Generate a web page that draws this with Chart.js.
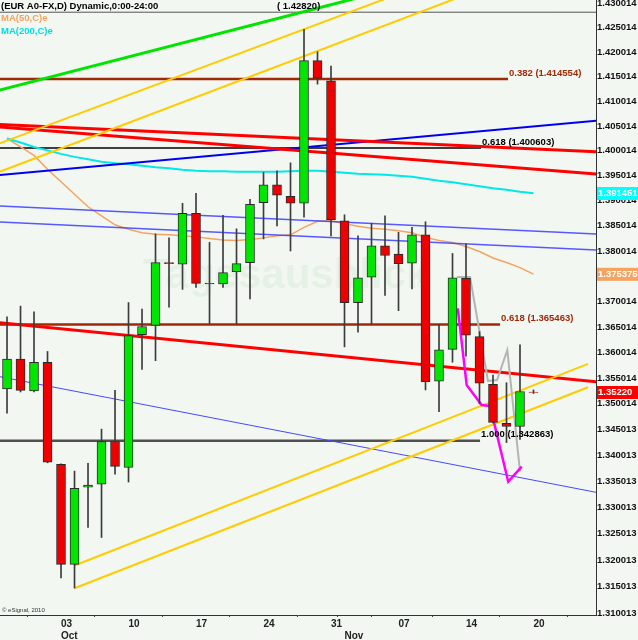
<!DOCTYPE html>
<html><head><meta charset="utf-8">
<script src="https://cdn.jsdelivr.net/npm/chart.js@4.4.1/dist/chart.umd.min.js"></script>
<style>html,body{margin:0;padding:0;background:#f2f7f2;}canvas{display:block;}</style>
</head><body>
<canvas id="c" width="638" height="640"></canvas>
<script>
// ---- data (EUR/USD daily, index 0 = Mon 03 Oct) ----
const dates = ['09-27','09-28','09-29','09-30','10-03','10-04','10-05','10-06','10-07','10-10','10-11','10-12','10-13','10-14','10-17','10-18','10-19','10-20','10-21','10-24','10-25','10-26','10-27','10-28','10-31','11-01','11-02','11-03','11-04','11-07','11-08','11-09','11-10','11-11','11-14','11-15','11-16','11-17','11-18','11-21'];
const firstIndex = -4;
const opens  = [1.3529,1.3587,1.3525,1.3581,1.3383,1.3192,1.3339,1.3345,1.3427,1.3377,1.3635,1.3653,1.3777,1.3774,1.3875,1.3736,1.3735,1.3759,1.3777,1.3896,1.3932,1.3909,1.3895,1.4183,1.4142,1.3860,1.3698,1.3748,1.3810,1.3794,1.3776,1.3832,1.3544,1.3606,1.3746,1.3631,1.3538,1.3462,1.3456,1.3523];
const highs  = [1.3670,1.3691,1.3680,1.3602,1.3384,1.3370,1.3385,1.3451,1.3526,1.3698,1.3685,1.3834,1.3826,1.3895,1.3915,1.3817,1.3871,1.3844,1.3903,1.3957,1.3960,1.3976,1.4247,1.4201,1.4172,1.3872,1.3830,1.3855,1.3870,1.3837,1.3847,1.3858,1.3655,1.3795,1.3814,1.3641,1.3556,1.3541,1.3615,1.3527];
const lows   = [1.3482,1.3523,1.3523,1.3386,1.3166,1.3147,1.3262,1.3243,1.3364,1.3349,1.3567,1.3584,1.3689,1.3724,1.3728,1.3656,1.3728,1.3656,1.3705,1.3824,1.3850,1.3800,1.3867,1.4135,1.3830,1.3611,1.3640,1.3656,1.3712,1.3682,1.3725,1.3527,1.3485,1.3581,1.3593,1.3500,1.3463,1.3425,1.3431,1.3520];
const closes = [1.3587,1.3526,1.3581,1.3387,1.3192,1.3337,1.3343,1.3427,1.3379,1.3633,1.3651,1.3777,1.3775,1.3875,1.3736,1.3735,1.3757,1.3775,1.3893,1.3932,1.3911,1.3895,1.4183,1.4147,1.3862,1.3698,1.3747,1.3810,1.3791,1.3775,1.3832,1.3543,1.3605,1.3747,1.3634,1.3540,1.3464,1.3456,1.3524,1.3522];
const ma50  = [1.4025,1.4008,1.3991,1.3963,1.3938,1.3913,1.3888,1.3870,1.3852,1.3843,1.3836,1.3833,1.3832,1.3830,1.3828,1.3825,1.3822,1.3821,1.3823,1.3826,1.3830,1.3832,1.3847,1.3859,1.3860,1.3854,1.3849,1.3845,1.3843,1.3840,1.3836,1.3827,1.3821,1.3817,1.3809,1.3799,1.3786,1.3777,1.3767,1.3754];
const ma200 = [1.4025,1.4017,1.4008,1.4001,1.3994,1.3988,1.3983,1.3978,1.3975,1.3973,1.3970,1.3967,1.3965,1.3962,1.3960,1.3959,1.3959,1.3958,1.3958,1.3958,1.3958,1.3959,1.3960,1.3960,1.3958,1.3956,1.3954,1.3953,1.3952,1.3950,1.3948,1.3944,1.3940,1.3937,1.3933,1.3929,1.3925,1.3922,1.3918,1.3915];
const yTickLabels = ['1.310013','1.315013','1.320013','1.325013','1.330013','1.335013','1.340013','1.345013','1.350014','1.355014','1.360014','1.365014','1.370014','1.375014','1.380014','1.385014','1.390014','1.395014','1.400014','1.405014','1.410014','1.415014','1.420014','1.425014','1.430014'];
const xTickIndex = [0,5,10,15,20,21,25,30,35];
const xTickLabels = [['03','Oct'],['10'],['17'],['24'],['31'],['','Nov'],['07'],['14'],['20']];
// trend lines: [index, price] endpoints
const greenLine   = [[-5.26,1.41179],[23.63,1.43234]];
const goldA       = [[-5.26,1.40078],[25.11,1.43209]];
const goldB       = [[-5.26,1.39507],[30.30,1.43213]];
const goldC       = [[1.0,1.31898],[39.04,1.35778]];
const goldD       = [[1.0,1.31466],[39.04,1.35321]];
const redR1       = [[-5.26,1.40543],[39.93,1.39980]];
const redR2       = [[-5.26,1.40499],[39.93,1.39531]];
const redR3       = [[-5.26,1.36604],[39.93,1.35423]];
const blueDark    = [[-5.26,1.39498],[39.93,1.40618]];
const blueB1      = [[-5.26,1.38905],[39.93,1.38334]];
const blueB2      = [[-5.26,1.38587],[39.93,1.38015]];
const blueThin    = [[-5.26,1.35565],[39.93,1.33278]];
const magentaPath = [[29.39,1.36867],[30.05,1.35366],[31.16,1.34977],[31.78,1.34958],[33.13,1.33497],[34.13,1.33785]];
const grayPath    = [[29.33,1.37485],[30.30,1.37485],[31.63,1.35444],[32.30,1.35464],[33.06,1.36048],[34.00,1.33689]];
const fibLabels = ['0.382 (1.414554)','0.618 (1.400603)','0.618 (1.365463)','1.000 (1.342863)'];
const fibValues = [1.414554,1.400603,1.365463,1.342863];
const fibEnds   = [33.11,31.11,32.52,31.04];
const topLevel = 1.42820;
const lastPrices = [1.391451,1.375375,1.35220];
const lastPriceLabels = ['1.391451','1.375375','1.35220'];

const FONT = '"Liberation Sans", Arial, sans-serif';
const idx = k => firstIndex + k;
const pts = arr => arr.map(p => ({x:p[0], y:p[1]}));
function lineDs(points, color, width, order){
  return {type:'line', data:pts(points), borderColor:color, borderWidth:width, pointRadius:0, tension:0, fill:false, order:order};
}
const fibColors = ['#a02a08','#000000','#a02a08','#505050'];
const fibDatasets = fibValues.map((v,k)=>lineDs([[-5.26,v],[fibEnds[k],v]], fibColors[k], k===1?1.5:2.5, 12));

const datasets = [
  {type:'bar', data: dates.map((d,k)=>({x:idx(k), y:[opens[k], closes[k]]})),
   backgroundColor: dates.map((d,k)=> closes[k]>=opens[k] ? '#00e600' : '#ee0000'),
   borderColor:'#2a2a2a', borderWidth:1, borderSkipped:false, barThickness:9, grouped:false, order:0},
  {type:'bar', data: dates.map((d,k)=>({x:idx(k), y:[lows[k], highs[k]]})),
   backgroundColor:'#3c3c3c', borderWidth:0, barThickness:1, grouped:false, order:1},
  lineDs(magentaPath,'#ff00ff',2.5,3),
  lineDs(grayPath,'#b4b4b4',2,3),
  lineDs(greenLine,'#00e400',3,4),
  lineDs(goldA,'#ffcc00',2,4),
  lineDs(goldB,'#ffcc00',2,4),
  lineDs(goldC,'#ffcc00',2,4),
  lineDs(goldD,'#ffcc00',2,4),
  lineDs(redR1,'#ff0000',3,4),
  lineDs(redR2,'#ff0000',3,4),
  lineDs(redR3,'#ff0000',3,4),
  lineDs(blueDark,'#0000ee',2,4),
  lineDs(blueB1,'rgba(60,60,255,0.85)',1.5,4),
  lineDs(blueB2,'rgba(60,60,255,0.85)',1.5,4),
  lineDs(blueThin,'#4848ff',1,4),
  {type:'line', data: ma200.map((v,k)=>({x:idx(k), y:v})), borderColor:'#00e8e8', borderWidth:2, pointRadius:0, tension:0, fill:false, order:5},
  {type:'line', data: ma50.map((v,k)=>({x:idx(k), y:v})), borderColor:'#f4a460', borderWidth:1.5, pointRadius:0, tension:0, fill:false, order:5},
  lineDs([[-5.26,topLevel],[39.93,topLevel]],'#555555',1,12),
  ...fibDatasets
];

const overlay = {
  id:'overlay',
  beforeDraw(chart){
    const c = chart.ctx; c.save(); c.fillStyle='#f2f7f2'; c.fillRect(0,0,chart.width,chart.height); c.restore();
  },
  beforeDatasetsDraw(chart){
    const c = chart.ctx; c.save();
    c.font = 'bold 42px ' + FONT; c.fillStyle='rgba(40,150,40,0.06)'; c.textBaseline='alphabetic';
    c.fillText('Tagesausblick', 143, 288);
    c.font = 'bold 10px ' + FONT; c.fillText('.de', 414, 287);
    c.restore();
  },
  afterDraw(chart){
    const c = chart.ctx, xs = chart.scales.x, ys = chart.scales.y;
    c.save();
    c.textBaseline='middle'; c.textAlign='left';
    c.font = 'bold 9.5px ' + FONT;
    c.fillStyle='#000'; c.fillText('(EUR A0-FX,D) Dynamic,0:00-24:00', 1, 6);
    c.fillStyle='#f4a460'; c.fillText('MA(50,C)e', 1, 18);
    c.fillStyle='#00e0e0'; c.fillText('MA(200,C)e', 1, 31);
    c.fillStyle='#000'; c.fillText('( 1.42820)', xs.getPixelForValue(16), ys.getPixelForValue(topLevel)-6);
    fibLabels.forEach((t,k)=>{
      c.fillStyle = (k===0||k===2) ? '#a02a08' : '#000';
      c.fillText(t, xs.getPixelForValue(fibEnds[k])+1, ys.getPixelForValue(fibValues[k])-6);
    });
    c.font = '6px ' + FONT; c.fillStyle='#333';
    c.fillText('\u00a9 eSignal, 2010', 2, 610);
    const boxCols = ['#00ffff','#f4a460','#ff0000'];
    c.font = 'bold 9.5px ' + FONT;
    lastPrices.forEach((v,k)=>{
      const y = ys.getPixelForValue(v);
      c.fillStyle = boxCols[k]; c.fillRect(597, y-6.5, 41, 13);
      c.fillStyle = '#ffffff'; c.fillText(lastPriceLabels[k], 598, y);
    });
    c.restore();
  }
};

new Chart(document.getElementById('c'), {
  type:'bar',
  data:{datasets},
  options:{
    responsive:false, animation:false, devicePixelRatio:1, events:[],
    layout:{padding:0},
    plugins:{legend:{display:false}, tooltip:{enabled:false}},
    scales:{
      x:{type:'linear', position:'bottom', min:-4.52, max:39.63, bounds:'data', offset:false,
        afterBuildTicks(s){ s.ticks = xTickIndex.map(v=>({value:v})); },
        afterFit(s){ s.height = 25; s.paddingLeft = 0; s.paddingRight = 0; },
        ticks:{autoSkip:false, align:'start', maxRotation:0, padding:1, color:'#222',
          font:{family:FONT, size:10, weight:'bold', lineHeight:1.2},
          callback(v){ const k = xTickIndex.indexOf(v); return k>=0 ? xTickLabels[k] : ''; }},
        grid:{display:true, drawOnChartArea:false, drawTicks:true, tickLength:2, color:'#444'},
        border:{display:true, color:'#333', width:1}
      },
      y:{type:'logarithmic', position:'right', min:1.309622, max:1.430710, bounds:'data',
        afterBuildTicks(s){ s.ticks = yTickLabels.map(t=>({value:Number(t)})); },
        afterFit(s){ s.width = 42; s.paddingTop = 0; s.paddingBottom = 0; },
        ticks:{autoSkip:false, padding:1, color:'#111', font:{family:FONT, size:9.5, weight:'bold'},
          callback(v,i){ return yTickLabels[i]; }},
        grid:{display:false, drawTicks:false},
        border:{display:true, color:'#333', width:1}
      }
    }
  },
  plugins:[overlay]
});
</script>
</body></html>
